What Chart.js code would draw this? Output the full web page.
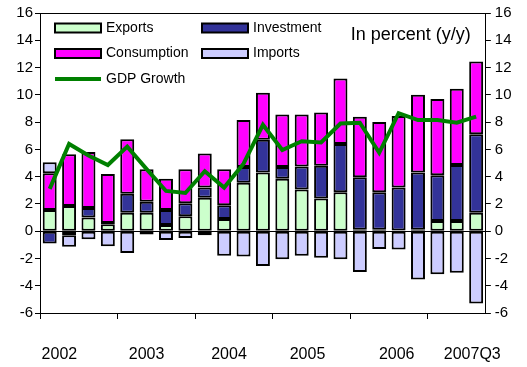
<!DOCTYPE html>
<html>
<head>
<meta charset="utf-8">
<script src="https://cdn.jsdelivr.net/npm/chart.js@4/dist/chart.umd.min.js"></script>
<style>
  body { margin: 0; background: #fff; }
</style>
</head>
<body>
<canvas id="growth" width="527" height="367"></canvas>
<script>
const quarters = [
  "2002Q1", "2002Q2", "2002Q3", "2002Q4",
  "2003Q1", "2003Q2", "2003Q3", "2003Q4",
  "2004Q1", "2004Q2", "2004Q3", "2004Q4",
  "2005Q1", "2005Q2", "2005Q3", "2005Q4",
  "2006Q1", "2006Q2", "2006Q3", "2006Q4",
  "2007Q1", "2007Q2", "2007Q3",
];

// contributions to growth, percentage points
const exportsData = [1.55, 1.85, 1.0, 0.5, 1.35, 1.35, 0.45, 1.1, 2.45, 0.9, 3.55, 4.3, 3.85, 3.05, 2.4, 2.85, 0.1, 0.1, 0.05, 0.1, 0.75, 0.75, 1.35];
const investmentData = [-0.9, -0.3, 0.7, 0.1, 1.4, 0.8, 1.1, 0.95, 0.75, 1.0, 1.15, 2.4, 0.85, 1.7, 2.4, 3.55, 3.85, 2.75, 3.15, 4.2, 3.35, 4.1, 5.75];
const consumptionData = [2.7, 3.8, 4.1, 3.6, 4.0, 2.4, 2.3, 2.5, 2.5, 2.65, 3.45, 3.45, 3.85, 3.8, 3.9, 4.8, 4.45, 5.15, 5.25, 5.7, 5.6, 5.6, 5.35];
const importsData = [0.8, -0.85, -0.6, -1.1, -1.6, -0.25, -0.65, -0.5, -0.3, -1.8, -1.85, -2.55, -2.05, -1.8, -1.95, -2.05, -3.0, -1.3, -1.35, -3.55, -3.15, -3.05, -5.3];
const gdpGrowth = [3.1, 6.4, 5.55, 4.85, 6.2, 4.55, 2.95, 2.8, 4.4, 3.2, 4.95, 7.8, 5.95, 6.6, 6.5, 7.9, 7.95, 5.75, 8.65, 8.15, 8.15, 7.95, 8.4];

const yearLabels = ["2002", "2003", "2004", "2005", "2006", "2007Q3"];

const FONT = "'Liberation Sans', Arial, sans-serif";

// legend and unit note drawn inside the plot frame
const insideLegend = {
  id: "insideLegend",
  afterDraw(chart) {
    const { ctx, chartArea } = chart;
    const ds = chart.data.datasets;
    const left = chartArea.left;
    const top = chartArea.top;
    const rows = [
      { i: 1, x: 15, y: 15 },
      { i: 2, x: 162, y: 15 },
      { i: 3, x: 15, y: 40.5 },
      { i: 4, x: 162, y: 40.5 },
      { i: 0, x: 15, y: 66 },
    ];
    ctx.save();
    ctx.font = "14px " + FONT;
    ctx.textBaseline = "middle";
    ctx.textAlign = "left";
    rows.forEach((r) => {
      const d = ds[r.i];
      const bx = left + r.x;
      const by = top + r.y;
      if (d.type === "line") {
        ctx.strokeStyle = d.borderColor;
        ctx.lineWidth = 4;
        ctx.beginPath();
        ctx.moveTo(bx, by);
        ctx.lineTo(bx + 46, by);
        ctx.stroke();
      } else {
        ctx.fillStyle = d.backgroundColor;
        ctx.fillRect(bx, by - 4.5, 46, 9);
        ctx.strokeStyle = "#000";
        ctx.lineWidth = 2;
        ctx.strokeRect(bx, by - 4.5, 46, 9);
      }
      ctx.fillStyle = "#000";
      ctx.fillText(d.label, bx + 51, by);
    });
    ctx.font = "18px " + FONT;
    ctx.textAlign = "right";
    ctx.fillText("In percent (y/y)", chartArea.right - 15, top + 22);
    ctx.restore();
  },
};

const barDefaults = {
  type: "bar",
  order: 1,
  borderColor: "#000",
  borderWidth: 2,
  borderSkipped: false,
  barPercentage: 0.72,
  categoryPercentage: 1.0,
};

const yTicks = { stepSize: 2, color: "#000", font: { size: 15, family: FONT } };

new Chart(document.getElementById("growth"), {
  data: {
    labels: quarters,
    datasets: [
      {
        type: "line",
        label: "GDP Growth",
        data: gdpGrowth,
        stack: "gdp",
        order: 0,
        borderColor: "#008000",
        borderWidth: 4,
        pointRadius: 0,
        tension: 0,
        fill: false,
      },
      { ...barDefaults, label: "Exports", data: exportsData, backgroundColor: "#CCFFCC" },
      { ...barDefaults, label: "Investment", data: investmentData, backgroundColor: "#333399" },
      { ...barDefaults, label: "Consumption", data: consumptionData, backgroundColor: "#FF00FF" },
      { ...barDefaults, label: "Imports", data: importsData, backgroundColor: "#CCCCFF" },
    ],
  },
  options: {
    responsive: false,
    animation: false,
    layout: { padding: 0 },
    plugins: {
      legend: { display: false },
      tooltip: { enabled: false },
    },
    scales: {
      x: {
        stacked: true,
        position: "bottom",
        grid: {
          display: true,
          offset: true,
          drawOnChartArea: false,
          tickLength: 6,
          tickColor: (c) => (c.index % 4 === 0 ? "#000" : "rgba(0,0,0,0)"),
        },
        border: { color: "#000", width: 1 },
        ticks: { display: false },
        afterFit: (s) => { s.height = 7; },
      },
      years: {
        type: "linear",
        position: "bottom",
        weight: 1,
        min: -0.5,
        max: 22.5,
        grid: { display: false, drawTicks: false },
        border: { display: false },
        afterBuildTicks: (s) => {
          s.ticks = [0.5, 5, 9.25, 13.3, 17.9, 21.8].map((v) => ({ value: v }));
        },
        ticks: {
          autoSkip: false,
          maxRotation: 0,
          padding: 25,
          color: "#000",
          font: { size: 16, family: FONT },
          callback: (v, i) => yearLabels[i],
        },
        afterFit: (s) => { s.height = 47; },
      },
      frameTop: {
        type: "category",
        position: "top",
        grid: { display: false },
        border: { color: "#000", width: 1 },
        ticks: { display: false },
        afterFit: (s) => { s.height = 13; },
      },
      y: {
        stacked: true,
        position: "left",
        min: -6,
        max: 16,
        grid: {
          color: (c) => (c.tick && c.tick.value === 0 ? "#000" : "rgba(0,0,0,0)"),
          tickColor: "#000",
          tickLength: 5,
        },
        border: { color: "#000", width: 1 },
        ticks: { ...yTicks, padding: 2 },
        afterFit: (s) => { s.width = 40; },
      },
      yRight: {
        position: "right",
        min: -6,
        max: 16,
        grid: { drawOnChartArea: false, tickColor: "#000", tickLength: 5 },
        border: { color: "#000", width: 1 },
        ticks: { ...yTicks, padding: 4 },
        afterFit: (s) => { s.width = 34; },
      },
    },
  },
  plugins: [insideLegend],
});
</script>
</body>
</html>
